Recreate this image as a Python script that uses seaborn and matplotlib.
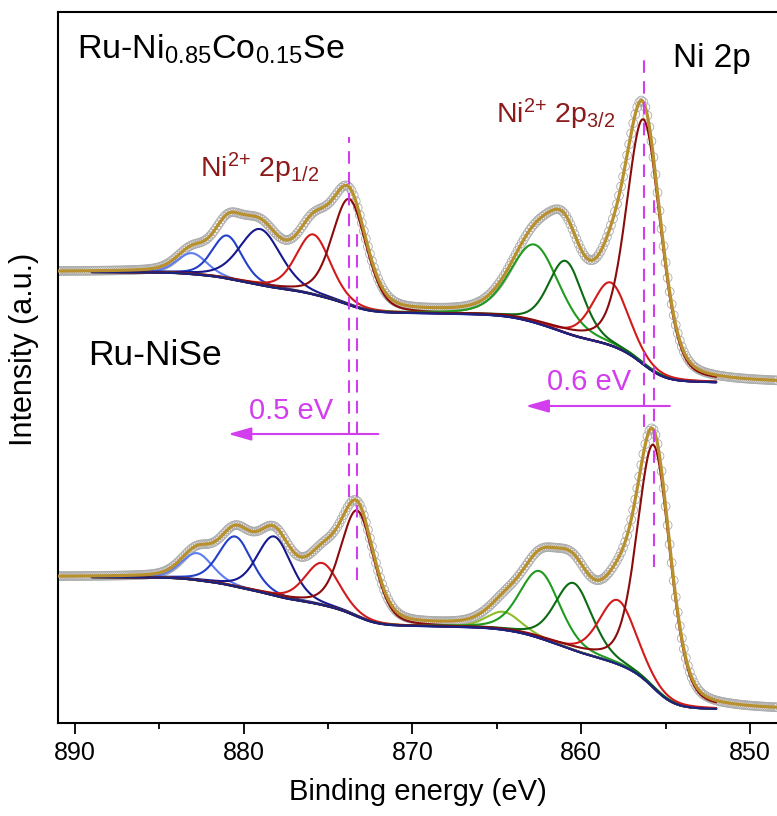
import numpy as np
import matplotlib
matplotlib.use("Agg")
import matplotlib.pyplot as plt
from matplotlib.ticker import MultipleLocator
import seaborn as sns

# ---- data ----
# binding energy window (eV) and fitted range
e_left, e_right = 891.0, 848.4
fit_lo, fit_hi = 852.0, 889.0

# Ru-Ni0.85Co0.15Se fit components: centre (eV), height, FWHM (eV)
top_centers = [883.06, 880.98, 879.02, 875.87, 873.74, 862.75, 860.92, 858.25, 856.30]
top_heights = [21, 43, 56, 60, 106, 78, 72, 63, 245]
top_fwhm = [2.1, 2.1, 2.9, 2.4, 2.4, 3.4, 2.4, 2.5, 2.4]
top_bg = [340, 451]          # background at low / high BE end

# Ru-NiSe fit components
bot_centers = [882.76, 880.50, 878.19, 875.34, 873.26, 864.60, 862.46, 860.45, 857.83, 855.70]
bot_heights = [27, 50, 59, 42, 106, 18, 67, 67, 64, 243]
bot_fwhm = [2.2, 2.3, 2.4, 2.4, 2.3, 2.4, 2.8, 2.6, 2.6, 2.3]
bot_bg = [13, 146]

# colours
c_lb, c_b, c_db = "#5C7CF2", "#2240C8", "#17178E"
c_r, c_dr = "#D21A1A", "#8A0B0B"
c_g, c_dg, c_yg = "#1F9B1F", "#0C6A12", "#8CBE2A"
top_colors = [c_lb, c_b, c_db, c_r, c_dr, c_g, c_dg, c_r, c_dr]
bot_colors = [c_lb, c_b, c_db, c_r, c_dr, c_yg, c_g, c_dg, c_r, c_dr]
gold = "#B8902E"
navy = "#1A2380"
mag = "#D23EEE"
label_red = "#8B1A1A"

eta = 0.3  # lorentzian share of the pseudo-Voigt line shape


def pvoigt(e, c, h, w):
    x = (e - c) / w
    return h * ((1 - eta) * np.exp(-4 * np.log(2) * x ** 2) + eta / (1 + 4 * x ** 2))


def build(centers, heights, fwhm, bg_ends, e):
    peaks = [pvoigt(e, c, h, w) for c, h, w in zip(centers, heights, fwhm)]
    total = np.sum(peaks, axis=0)
    area = np.cumsum(total)
    bg = bg_ends[0] + (bg_ends[1] - bg_ends[0]) * area / area[-1]   # Shirley-type step
    return peaks, bg, bg + total


sns.set_style("ticks")
plt.rcParams["font.family"] = ["Liberation Sans", "DejaVu Sans"]
plt.rcParams["mathtext.fontset"] = "custom"
plt.rcParams["mathtext.rm"] = "Liberation Sans"
plt.rcParams["mathtext.default"] = "regular"
for k in ["text.color", "axes.labelcolor", "xtick.color", "ytick.color"]:
    plt.rcParams[k] = "black"

fig = plt.figure(figsize=(7.77, 8.16), dpi=100)
ax = fig.add_axes([58 / 777, 93 / 816, 719 / 777, 711 / 816])

e = np.linspace(e_right, e_left, 2400)
fit = (e >= fit_lo) & (e <= fit_hi)
e_raw = np.arange(e_right, e_left, 0.12)

for centers, heights, fwhm, bg_ends, colors in [
        (top_centers, top_heights, top_fwhm, top_bg, top_colors),
        (bot_centers, bot_heights, bot_fwhm, bot_bg, bot_colors)]:
    peaks, bg, env = build(centers, heights, fwhm, bg_ends, e)
    raw = np.interp(e_raw, e, env)
    sns.scatterplot(x=e_raw, y=raw, ax=ax, s=40, marker="o", facecolor="none",
                    edgecolor="#ABABAB", linewidth=0.6, zorder=1)
    for p, col in zip(peaks, colors):
        sns.lineplot(x=e[fit], y=(bg + p)[fit], ax=ax, color=col, lw=1.5,
                     estimator=None, zorder=2)
    sns.lineplot(x=e[fit], y=bg[fit], ax=ax, color=navy, lw=1.6, estimator=None, zorder=3)
    sns.lineplot(x=e, y=env, ax=ax, color=gold, lw=2.3, estimator=None, zorder=4)

# peak-shift guides at the main Ni2+ components
dash = (0, (6, 4))
ax.plot([top_centers[4]] * 2, [226, 586], ls=dash, lw=1.5, color=mag, zorder=5)
ax.plot([bot_centers[4]] * 2, [143, 493], ls=dash, lw=1.5, color=mag, zorder=5)
ax.plot([top_centers[8]] * 2, [296, 670], ls=dash, lw=1.5, color=mag, zorder=5)
ax.plot([bot_centers[9]] * 2, [156, 530], ls=dash, lw=1.5, color=mag, zorder=5)

arrow = dict(arrowstyle="-|>,head_length=0.7,head_width=0.2", color=mag, lw=1.5,
             shrinkA=0, shrinkB=0, mutation_scale=20)
ax.annotate("", xy=(880.92, 289), xytext=(872.02, 289), arrowprops=arrow, zorder=6)
ax.annotate("", xy=(863.29, 317), xytext=(854.75, 317), arrowprops=arrow, zorder=6)
ax.text(877.18, 304, "0.5 eV", color=mag, fontsize=21, ha="center", va="baseline")
ax.text(859.55, 333, "0.6 eV", color=mag, fontsize=21, ha="center", va="baseline")

ax.text(889.88, 664, "Ru-Ni$_{0.85}$Co$_{0.15}$Se", fontsize=24.5, va="baseline")
ax.text(889.23, 358, "Ru-NiSe", fontsize=25.5, va="baseline")
ax.text(854.57, 656, "Ni 2p", fontsize=24, va="baseline")
ax.text(882.58, 546, "Ni$^{2{+}}$ 2p$_{1/2}$", fontsize=20.5, color=label_red, va="baseline")
ax.text(865.07, 600, "Ni$^{2{+}}$ 2p$_{3/2}$", fontsize=20.5, color=label_red, va="baseline")

ax.set_xlim(e_left, e_right)
ax.set_ylim(0, 711)
ax.xaxis.set_major_locator(MultipleLocator(10))
ax.xaxis.set_minor_locator(MultipleLocator(5))
ax.tick_params(axis="x", which="major", direction="out", length=8, width=1.3,
               labelsize=18, pad=5)
ax.tick_params(axis="x", which="minor", direction="out", length=4, width=1.3)
ax.set_yticks([])
ax.set_xlabel("Binding energy (eV)", fontsize=21, labelpad=9)
ax.set_ylabel("Intensity (a.u.)", fontsize=22)
ax.yaxis.set_label_coords(-0.027, 0.525)
ax.spines["right"].set_visible(False)
for s in ["top", "left", "bottom"]:
    ax.spines[s].set_linewidth(1.5)
    ax.spines[s].set_color("black")

fig.savefig("out.png", dpi=100)
